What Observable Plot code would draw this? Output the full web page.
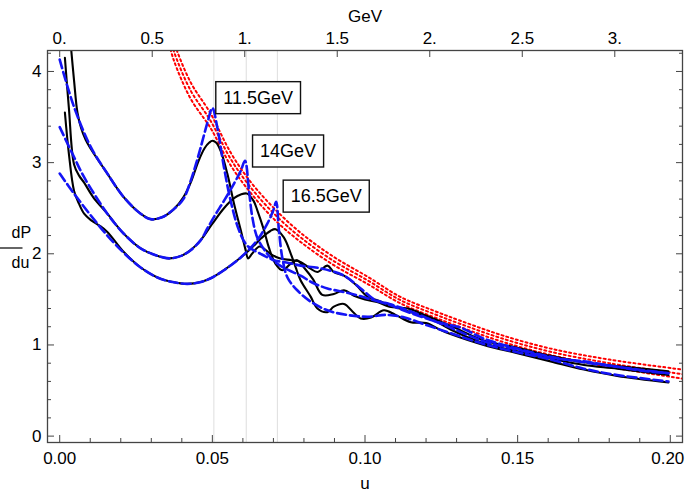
<!DOCTYPE html>
<html><head><meta charset="utf-8">
<script src="https://cdn.jsdelivr.net/npm/d3@7"></script>
<script src="https://cdn.jsdelivr.net/npm/@observablehq/plot@0.6"></script>
<style>html,body{margin:0;padding:0;background:#fff;}</style>
</head><body>
<div id="chart"></div>
<script>
// ---- axis ticks / labels ----
const uMajor = [0, 0.05, 0.10, 0.15, 0.20];
const uMajorLabels = ["0.00", "0.05", "0.10", "0.15", "0.20"];
const uMinor = [0.01, 0.02, 0.03, 0.04, 0.06, 0.07, 0.08, 0.09, 0.11, 0.12, 0.13, 0.14, 0.16, 0.17, 0.18, 0.19];
const yMajor = [0, 1, 2, 3, 4];
const yMajorLabels = ["0", "1", "2", "3", "4"];
const yMinor = [0.2, 0.4, 0.6, 0.8, 1.2, 1.4, 1.6, 1.8, 2.2, 2.4, 2.6, 2.8, 3.2, 3.4, 3.6, 3.8, 4.2];
const gevTicks = [0, 0.5, 1, 1.5, 2, 2.5, 3];
const gevLabels = ["0.", "0.5", "1.", "1.5", "2.", "2.5", "3."];
const GEV_PER_U = 16.5;
const peakU = [0.0505, 0.0611, 0.0713];
const boxLabels = ["11.5GeV", "14GeV", "16.5GeV"];
const boxU = [0.0650, 0.0748, 0.0873];
const boxY = [3.71, 3.125, 2.63];

// ---- 11.5 GeV ----
const kA_u = [0.0036,0.0047,0.0058,0.0070,0.0085,0.0102,0.0156,0.0210,0.0265,0.0298,0.0335,0.0374,0.0405,0.0429,0.0455,0.0475,0.0490,0.0500,0.0512,0.0527,0.0549,0.0571,0.0593,0.0609,0.0617,0.0630,0.0655,0.0690,0.0720,0.0760,0.0789,0.0820,0.0844,0.0877,0.0898,0.0931,0.0970,0.1008,0.1040,0.1080,0.1150,0.1200,0.1280,0.1389,0.1499,0.1608,0.1717,0.1826,0.1994];
const kA_y = [4.30,3.90,3.55,3.38,3.25,3.15,2.88,2.62,2.44,2.38,2.40,2.49,2.62,2.78,3.02,3.16,3.22,3.24,3.22,3.13,2.88,2.55,2.26,2.04,1.95,2.00,2.08,2.00,1.95,1.93,1.91,1.84,1.80,1.87,1.80,1.76,1.66,1.53,1.49,1.44,1.36,1.32,1.21,1.05,0.97,0.88,0.81,0.77,0.71];
const bA_u = [0,0.0047,0.0102,0.0156,0.0210,0.0265,0.0298,0.0335,0.0374,0.0405,0.0429,0.0446,0.0462,0.0484,0.0500,0.0516,0.0538,0.0560,0.0587,0.0614,0.0658,0.0702,0.0750,0.0789,0.0855,0.0931,0.0986,0.1030,0.1080,0.1150,0.1250,0.1313,0.1389,0.1499,0.1608,0.1717,0.1826,0.1900,0.1994];
const bA_y = [4.13,3.61,3.17,2.88,2.62,2.44,2.38,2.40,2.49,2.60,2.80,2.98,3.17,3.44,3.60,3.39,2.95,2.58,2.26,2.09,2.00,1.93,1.90,1.87,1.84,1.76,1.62,1.50,1.44,1.35,1.24,1.19,1.07,0.96,0.87,0.81,0.76,0.72,0.69];

// ---- 14 GeV ----
const kB_u = [0.0017,0.0030,0.0047,0.0063,0.0080,0.0110,0.0156,0.0210,0.0265,0.0310,0.0358,0.0400,0.0429,0.0462,0.0500,0.0538,0.0571,0.0593,0.0614,0.0635,0.0647,0.0669,0.0685,0.0707,0.0729,0.0756,0.0778,0.0800,0.0830,0.0860,0.0898,0.0931,0.0964,0.1000,0.1040,0.1080,0.1140,0.1200,0.1280,0.1389,0.1499,0.1608,0.1717,0.1826,0.1994];
const kB_y = [4.15,3.60,2.98,2.86,2.78,2.62,2.44,2.22,2.06,1.99,1.95,1.98,2.04,2.15,2.33,2.50,2.61,2.65,2.66,2.58,2.48,2.26,2.07,1.89,1.82,1.89,1.93,1.85,1.72,1.55,1.56,1.60,1.54,1.50,1.47,1.42,1.40,1.32,1.17,1.02,0.93,0.85,0.78,0.74,0.67];
const bB_u = [0,0.0047,0.0080,0.0156,0.0210,0.0265,0.0310,0.0358,0.0400,0.0429,0.0462,0.0484,0.0510,0.0538,0.0571,0.0593,0.0607,0.0620,0.0631,0.0647,0.0680,0.0713,0.0750,0.0789,0.0830,0.0877,0.0931,0.0980,0.1030,0.1080,0.1140,0.1200,0.1280,0.1389,0.1499,0.1608,0.1717,0.1826,0.1994];
const bB_y = [3.39,3.06,2.84,2.44,2.22,2.06,1.99,1.95,1.98,2.04,2.15,2.28,2.43,2.58,2.77,2.91,3.02,2.69,2.40,2.18,2.00,1.89,1.82,1.76,1.68,1.62,1.58,1.54,1.49,1.45,1.38,1.30,1.19,1.04,0.95,0.86,0.82,0.76,0.69];

// ---- 16.5 GeV ----
const kC_u = [0.0017,0.0030,0.0047,0.0063,0.0080,0.0102,0.0130,0.0156,0.0210,0.0265,0.0320,0.0370,0.0418,0.0462,0.0500,0.0538,0.0593,0.0630,0.0660,0.0690,0.0707,0.0734,0.0757,0.0773,0.0789,0.0822,0.0844,0.0877,0.0898,0.0931,0.0964,0.0986,0.1020,0.1062,0.1100,0.1150,0.1200,0.1250,0.1280,0.1389,0.1499,0.1608,0.1717,0.1826,0.1994];
const kC_y = [3.55,3.10,2.69,2.55,2.44,2.37,2.31,2.24,2.02,1.85,1.74,1.69,1.67,1.69,1.74,1.82,1.96,2.07,2.17,2.25,2.27,2.18,2.00,1.85,1.71,1.53,1.40,1.36,1.42,1.45,1.35,1.29,1.30,1.38,1.33,1.25,1.24,1.16,1.12,1.00,0.91,0.82,0.73,0.66,0.59];
const bC_u = [0,0.0047,0.0102,0.0156,0.0210,0.0265,0.0320,0.0370,0.0418,0.0462,0.0500,0.0538,0.0593,0.0647,0.0680,0.0700,0.0709,0.0718,0.0729,0.0746,0.0778,0.0820,0.0877,0.0940,0.1008,0.1073,0.1130,0.1200,0.1280,0.1389,0.1499,0.1608,0.1717,0.1826,0.1994];
const bC_y = [2.88,2.66,2.42,2.20,2.01,1.85,1.74,1.69,1.67,1.69,1.74,1.82,1.96,2.15,2.33,2.48,2.57,2.26,1.96,1.74,1.60,1.48,1.38,1.33,1.31,1.33,1.30,1.22,1.13,1.01,0.92,0.84,0.74,0.67,0.60];

// ---- red dotted envelope (three lines) ----
const red_u = [0.0355,0.0373,0.0429,0.0494,0.0560,0.0625,0.0702,0.0789,0.0898,0.1008,0.1117,0.1226,0.1313,0.1450,0.1608,0.1800,0.2040];
const redHi_y = [4.55,4.33,3.88,3.54,3.11,2.79,2.50,2.23,1.965,1.75,1.525,1.375,1.265,1.105,0.96,0.84,0.73];
const redMid_y = [4.45,4.23,3.79,3.46,3.04,2.73,2.44,2.18,1.92,1.71,1.49,1.34,1.23,1.07,0.925,0.80,0.68];
const redLo_y = [4.35,4.13,3.70,3.38,2.97,2.67,2.38,2.13,1.875,1.67,1.455,1.305,1.195,1.035,0.89,0.76,0.63];

function rows(name, us, ys) { return us.map((u, i) => ({s: name, u, y: ys[i]})); }
const blackRows = [...rows("A", kA_u, kA_y), ...rows("B", kB_u, kB_y), ...rows("C", kC_u, kC_y)];
const blueRows = [...rows("A", bA_u, bA_y), ...rows("B", bB_u, bB_y), ...rows("C", bC_u, bC_y)];
const redRows = [...rows("hi", red_u, redHi_y), ...rows("mid", red_u, redMid_y), ...rows("lo", red_u, redLo_y)];
const boxRows = boxLabels.map((t, i) => ({t, u: boxU[i], y: boxY[i]}));
const gevU = gevTicks.map(g => g / GEV_PER_U);
const uLabelInner = uMajor.slice(0, -1);
const uLabelLast = uMajor.slice(-1);

const W = 685, H = 494, ML = 47, MR = 3, MT = 50, MB = 52;
const axisColor = "#444";
const uFmt = d => uMajorLabels[uMajor.indexOf(d)];

const svg = Plot.plot({
  width: W, height: H,
  marginLeft: ML, marginRight: MR, marginTop: MT, marginBottom: MB,
  x: {domain: [-0.004, 0.204], axis: null},
  y: {domain: [-0.07, 4.23], axis: null},
  style: {fontFamily: '"Liberation Sans", Arial, sans-serif', fontSize: "17px", background: "#fff", color: "#000"},
  marks: [
    Plot.ruleX(peakU, {stroke: "#dedede", strokeWidth: 1}),
    Plot.line(redRows, {x: "u", y: "y", z: "s", stroke: "#ff0000", strokeWidth: 2, strokeDasharray: "2,3", curve: "catmull-rom", clip: true}),
    Plot.line(blackRows, {x: "u", y: "y", z: "s", stroke: "#000", strokeWidth: 2.1, curve: "catmull-rom", clip: true}),
    Plot.line(blueRows, {x: "u", y: "y", z: "s", stroke: "#1414f5", strokeWidth: 2.6, strokeDasharray: "9,4", curve: "catmull-rom", clip: true}),
    Plot.frame({stroke: axisColor, strokeWidth: 1.3}),
    // bottom axis
    Plot.axisX(uMajor, {anchor: "bottom", tickSize: -7, tickPadding: 0, label: null, stroke: axisColor, tickFormat: () => ""}),
    Plot.axisX(uLabelInner, {anchor: "bottom", tickSize: 0, tickPadding: 9.5, label: null, stroke: "none", tickFormat: uFmt}),
    Plot.axisX(uLabelLast, {anchor: "bottom", tickSize: 0, tickPadding: 9.5, dx: -2.5, label: null, stroke: "none", tickFormat: uFmt}),
    Plot.axisX(uMinor, {anchor: "bottom", tickSize: -4, tickPadding: 0, label: null, stroke: axisColor, tickFormat: () => ""}),
    // top GeV axis
    Plot.axisX(gevU, {anchor: "top", tickSize: -6, tickPadding: 12.5, label: null, stroke: axisColor, tickFormat: d => gevLabels[gevU.indexOf(d)]}),
    // left axis
    Plot.axisY(yMajor, {anchor: "left", tickSize: -7, tickPadding: 13, label: null, stroke: axisColor, tickFormat: d => yMajorLabels[yMajor.indexOf(d)]}),
    Plot.axisY(yMinor, {anchor: "left", tickSize: -4, tickPadding: 0, label: null, stroke: axisColor, tickFormat: () => ""}),
    // right axis (ticks only)
    Plot.axisY(yMajor, {anchor: "right", tickSize: -7, tickPadding: 0, label: null, stroke: axisColor, tickFormat: () => ""}),
    Plot.axisY(yMinor, {anchor: "right", tickSize: -4, tickPadding: 0, label: null, stroke: axisColor, tickFormat: () => ""}),
    // axis titles
    Plot.text(["u"], {text: d => d, frameAnchor: "bottom", dy: 46, fontSize: 17}),
    Plot.text(["GeV"], {text: d => d, frameAnchor: "top", dy: -41, fontSize: 17}),
    Plot.text(["dP"], {text: d => d, frameAnchor: "left", dx: -36, dy: -14, fontSize: 16}),
    Plot.text(["du"], {text: d => d, frameAnchor: "left", dx: -36, dy: 16, fontSize: 16}),
    // curve labels
    Plot.text(boxRows, {x: "u", y: "y", text: "t", fontSize: 18, fill: "#000"})
  ]
});

document.getElementById("chart").appendChild(svg);

// fraction bar for dP/du
const midY = (MT + (H - MB)) / 2 + 2;
d3.select(svg).append("line")
  .attr("x1", ML - 36 - 11.5).attr("x2", ML - 36 + 11.5)
  .attr("y1", midY).attr("y2", midY)
  .attr("stroke", "#000").attr("stroke-width", 1.2);

// framed boxes behind curve labels
d3.select(svg).selectAll("text")
  .filter(function () { return boxLabels.includes(this.textContent); })
  .each(function () {
    const bb = this.getBBox();
    const r = document.createElementNS("http://www.w3.org/2000/svg", "rect");
    r.setAttribute("x", bb.x - 7.5);
    r.setAttribute("y", bb.y - 6);
    r.setAttribute("width", bb.width + 15);
    r.setAttribute("height", bb.height + 12);
    r.setAttribute("fill", "#fff");
    r.setAttribute("stroke", "#111");
    r.setAttribute("stroke-width", 1.4);
    const t = this.getAttribute("transform");
    if (t) r.setAttribute("transform", t);
    this.parentNode.insertBefore(r, this);
  });
</script>
</body></html>
